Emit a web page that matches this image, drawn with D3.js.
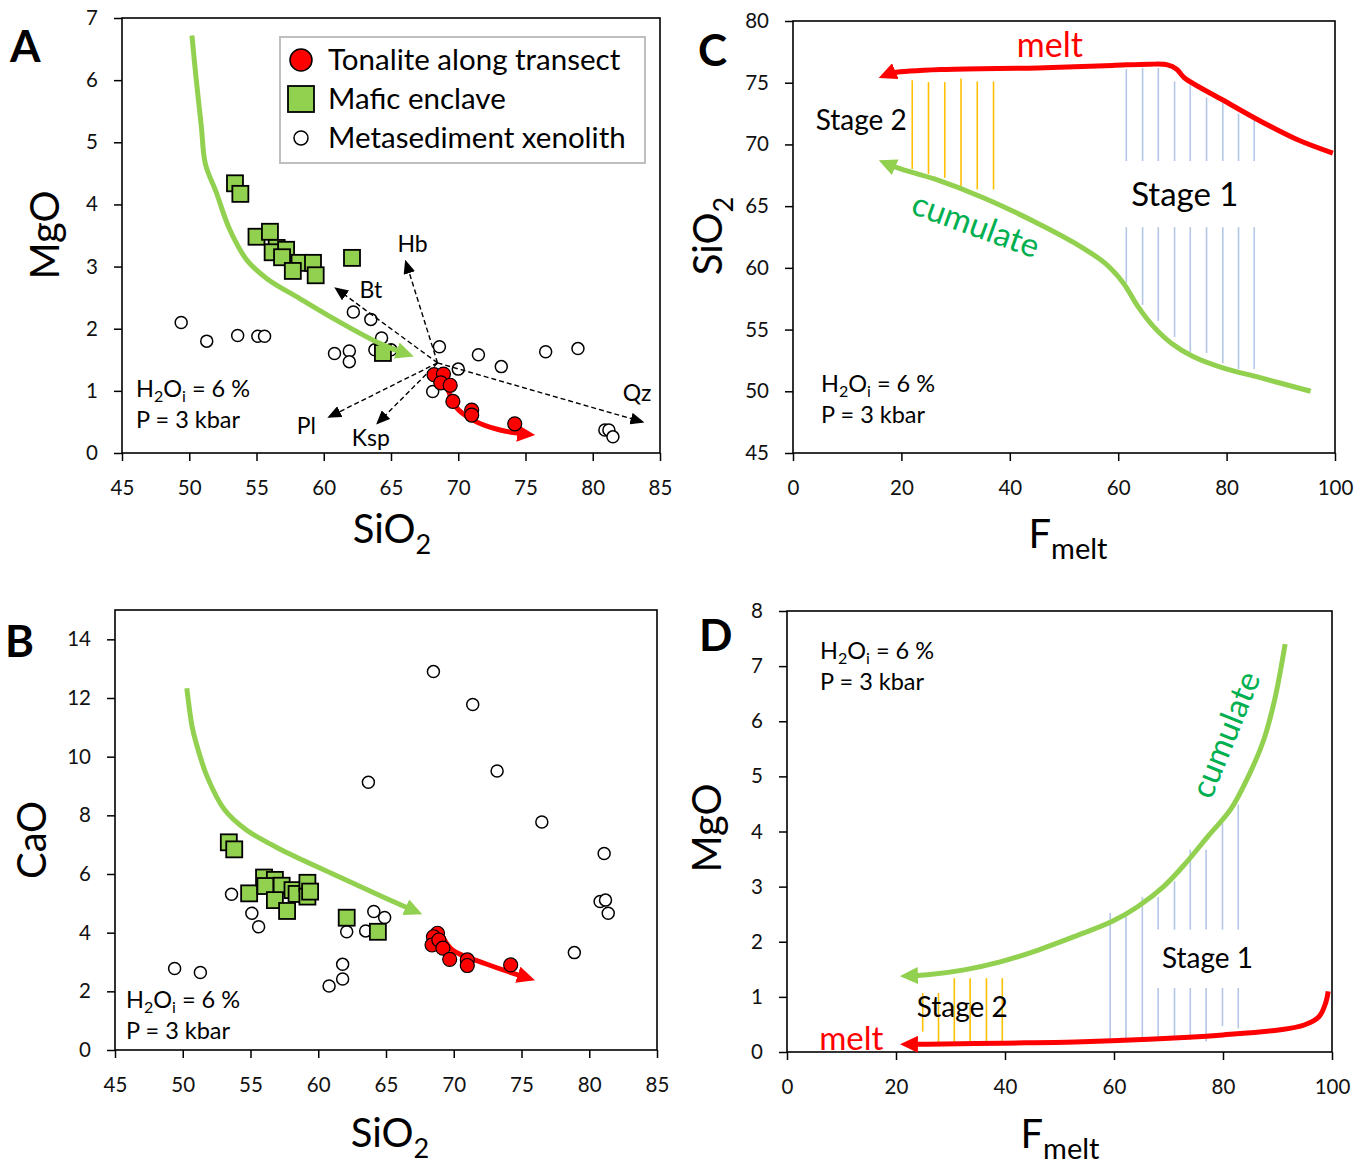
<!DOCTYPE html>
<html>
<head>
<meta charset="utf-8">
<script src="https://cdnjs.cloudflare.com/ajax/libs/d3/7.8.5/d3.min.js"></script>
<style>
body { margin: 0; background: #fff; }
svg { font-family: Lato, sans-serif; }
.axis text { font-family: Lato, sans-serif; font-size: 20.5px; fill: #111; }
.axis line { stroke: #000; stroke-width: 1.5; }
</style>
</head>
<body>
<svg id="fig" width="1372" height="1164"></svg>
<script>
// ---- panel A : MgO vs SiO2 ----
const tonaliteA = [[68.2,1.26],[68.9,1.27],[68.7,1.13],[69.4,1.09],[69.6,0.83],[71.0,0.69],[71.0,0.61],[74.2,0.47]]
const enclaveA = [[53.4,4.34],[53.8,4.17],[55.0,3.48],[56.0,3.56],[56.5,3.30],[56.2,3.23],[57.2,3.27],[56.9,3.15],
                  [58.2,3.06],[57.7,2.93],[59.2,3.06],[59.4,2.86],[62.1,3.14],[64.4,1.61]]
const xenolithA = [[49.4,2.10],[51.3,1.80],[53.6,1.89],[55.1,1.88],[55.6,1.88],[60.8,1.60],[61.9,1.64],[61.9,1.47],
                   [62.2,2.27],[63.5,2.15],[63.8,1.66],[64.3,1.85],[65.0,1.66],[68.6,1.71],[68.1,0.99],[70.0,1.35],
                   [71.5,1.58],[73.2,1.39],[76.5,1.63],[78.9,1.68],[80.9,0.37],[81.2,0.37],[81.5,0.26]]
const cumulateTrendA = [[50.2,6.72],[50.5,6.05],[50.9,5.25],[51.2,4.65],[52.0,4.2],[53.0,3.6],[54.3,3.1],[55.8,2.8],
                        [58.1,2.5],[61.0,2.13],[64.2,1.76],[66.2,1.59]]
const meltTrendA = [[69.1,1.13],[69.8,0.75],[71.1,0.53],[73.1,0.37],[75.2,0.30]]
const vectorOrigin = [68.46,1.45]
const vectorNames = ['Hb','Bt','Pl','Ksp','Qz']
const vectorTips = [[66.1,3.08],[60.9,2.65],[60.4,0.58],[64.0,0.48],[83.7,0.50]]
const vectorLabelAt = [[66.6,3.24],[63.5,2.49],[58.7,0.31],[63.5,0.11],[83.3,0.83]]
const legendLabels = ['Tonalite along transect','Mafic enclave','Metasediment xenolith']

// ---- panel B : CaO vs SiO2 ----
const tonaliteB = [[68.8,3.98],[68.5,3.86],[68.4,3.58],[68.9,3.75],[69.2,3.47],[69.7,3.09],[71.0,3.07],[71.0,2.88],[74.2,2.90]]
const enclaveB = [[53.4,7.08],[53.8,6.84],[54.9,5.34],[56.0,5.88],[56.8,5.80],[56.1,5.59],[57.3,5.60],[56.8,5.11],
                  [57.7,4.74],[58.1,5.45],[58.4,5.32],[59.2,5.70],[59.2,5.23],[59.4,5.40],[62.1,4.51],[64.4,4.03]]
const xenolithB = [[68.5,12.90],[71.4,11.78],[63.7,9.13],[73.2,9.51],[76.5,7.77],[81.1,6.70],[80.8,5.06],[81.2,5.11],
                   [81.4,4.66],[78.9,3.32],[53.6,5.31],[55.1,4.66],[55.6,4.20],[64.1,4.72],[64.9,4.52],[62.1,4.03],
                   [63.5,4.06],[49.4,2.78],[51.3,2.64],[61.8,2.92],[61.8,2.42],[60.8,2.18]]
const cumulateTrendB = [[50.3,12.33],[50.7,11.0],[51.0,10.45],[51.8,9.32],[53.1,8.18],[54.7,7.50],[57.3,6.82],
                        [61.0,6.02],[64.7,5.23],[67.2,4.72]]
const meltTrendB = [[69.2,3.86],[69.9,3.41],[72.3,2.95],[75.5,2.45]]

// ---- panel C : SiO2 vs F melt ----
const meltC = [[99.6,69.3],[93.0,70.4],[86.2,71.9],[79.3,73.6],[72.2,75.4],[70.8,76.1],[69.1,76.45],[65.7,76.5],
               [58.9,76.4],[45.2,76.2],[28.2,76.08],[18.6,75.81],[17.0,75.6]]
const cumulateC = [[95.5,50.0],[86.2,51.1],[79.3,51.9],[73.9,52.8],[69.8,53.9],[66.4,55.3],[63.6,56.9],[60.9,58.8],
                   [57.5,60.4],[52.0,62.0],[45.2,63.6],[35.0,65.7],[26.1,67.2],[19.3,68.1],[17.0,68.5]]
const stage2C = [22, 25, 28, 31, 34, 37]
const stage2TopC = [75.2, 75.05, 75.05, 75.35, 75.1, 75.1]
const stage2BotC = [68.0, 67.6, 67.3, 66.6, 66.35, 66.35]
const stage1C = [61.5, 64.5, 67.4, 70.4, 73.3, 76.3, 79.3, 82.2, 85.1]
const stage1TopC = [76.1, 76.2, 76.2, 75.1, 74.9, 73.8, 73.4, 72.5, 72.0]
const stage1GapC = [68.65, 63.3]
const stage1BotC = [58.8, 57.0, 55.7, 54.4, 53.2, 53.1, 52.3, 51.8, 51.8]

// ---- panel D : MgO vs F melt ----
const cumulateD = [[91.4,7.40],[89.5,6.40],[87.5,5.67],[84.7,5.01],[81.4,4.40],[77.3,3.92],[73.2,3.43],[69.2,3.01],
                   [64.4,2.64],[59.7,2.37],[52.9,2.10],[46.1,1.85],[39.3,1.64],[32.5,1.49],[25.8,1.40],[22.0,1.38]]
const meltD = [[99.3,1.10],[98.8,0.88],[97.6,0.64],[94.9,0.49],[90.2,0.40],[80.0,0.31],[66.4,0.23],[52.9,0.18],
               [39.3,0.16],[25.8,0.14],[22.0,0.14]]
const stage2D = [24.9, 27.8, 30.7, 33.6, 36.6, 39.5]
const stage2TopD = [1.07, 1.07, 1.34, 1.34, 1.34, 1.34]
const stage2BotD = [0.37, 0.16, 0.19, 0.19, 0.19, 0.19]
const stage1D = [59.3, 62.2, 65.2, 68.1, 71.1, 74.0, 76.9, 79.9, 82.8]
const stage1TopD = [2.52, 2.46, 2.81, 2.81, 3.10, 3.67, 3.67, 4.16, 4.49]
const stage1GapD = [2.22, 1.16]
const stage1SplitD = [false, false, false, true, true, true, true, true, true]
const stage1BotD = [0.21, 0.19, 0.19, 0.22, 0.22, 0.22, 0.19, 0.47, 0.43]

const svg = d3.select('#fig')
const defs = svg.append('defs')

function arrowHead(id, color, len, wid, back) {
    defs.append('marker')
        .attr('id', id)
        .attr('markerUnits', 'userSpaceOnUse')
        .attr('viewBox', `0 ${-wid / 2} ${len} ${wid}`)
        .attr('markerWidth', len).attr('markerHeight', wid)
        .attr('refX', len - back).attr('refY', 0)
        .attr('orient', 'auto')
        .append('path')
        .attr('d', `M0,${-wid / 2}L${len},0L0,${wid / 2}Z`)
        .attr('fill', color)
}
arrowHead('headGreen', '#92d050', 18, 17, 7)
arrowHead('headRed', '#ff0000', 18, 17, 7)
arrowHead('headBlack', '#000', 14, 12, 2)

function panel(p) {
    const x = d3.scaleLinear().domain(p.xDomain).range([p.left, p.right])
    const y = d3.scaleLinear().domain(p.yDomain).range([p.bottom, p.top])
    const g = svg.append('g')
    g.append('g').attr('class', 'axis')
     .attr('transform', `translate(0,${p.bottom})`)
     .call(d3.axisBottom(x).tickValues(p.xTicks).tickSize(8).tickPadding(19)
             .tickSizeOuter(0).tickFormat(d3.format('d')))
     .call(a => a.select('.domain').remove())
    g.append('g').attr('class', 'axis')
     .attr('transform', `translate(${p.left},0)`)
     .call(d3.axisLeft(y).tickValues(p.yTicks).tickSize(8).tickPadding(16)
             .tickSizeOuter(0).tickFormat(d3.format('d')))
     .call(a => a.select('.domain').remove())
    g.append('rect')
     .attr('x', p.left).attr('y', p.top)
     .attr('width', p.right - p.left).attr('height', p.bottom - p.top)
     .attr('fill', 'none').attr('stroke', '#000').attr('stroke-width', 1.6)
    const plot = g.append('g')
    // panel letter
    g.append('text').attr('x', p.letterAt[0]).attr('y', p.letterAt[1])
     .attr('font-size', 44).attr('font-weight', 'bold').text(p.letter)
    // x title
    const xt = g.append('text').attr('x', p.xTitleAt[0]).attr('y', p.xTitleAt[1])
                .attr('text-anchor', 'middle').attr('font-size', 40)
    xt.append('tspan').text(p.xTitle[0])
    xt.append('tspan').attr('font-size', p.xTitle[1].length > 1 ? 29 : 27).attr('dy', 11).text(p.xTitle[1])
    // y title
    const yt = g.append('text')
                .attr('transform', `translate(${p.yTitleAt[0]},${p.yTitleAt[1]}) rotate(-90)`)
                .attr('text-anchor', 'middle').attr('font-size', 40)
    yt.append('tspan').text(p.yTitle[0])
    if (p.yTitle[1]) yt.append('tspan').attr('font-size', 27).attr('dy', 11).text(p.yTitle[1])
    // experimental conditions
    const c = g.append('text').attr('x', p.left + p.condAt[0]).attr('y', p.top + p.condAt[1])
               .attr('font-size', 23.5).style('white-space', 'pre')
    c.append('tspan').text('H')
    c.append('tspan').attr('font-size', 16).attr('dy', 5).text('2')
    c.append('tspan').attr('dy', -5).text('O')
    c.append('tspan').attr('font-size', 16).attr('dy', 5).text('i')
    c.append('tspan').attr('dy', -5).text(' = 6 %')
    g.append('text').attr('x', p.left + p.condAt[0]).attr('y', p.top + p.condAt[1] + 31)
     .attr('font-size', 23.5).text('P = 3 kbar')
    return { g: plot, x, y }
}

const line = (x, y) => d3.line().x(d => x(d[0])).y(d => y(d[1])).curve(d3.curveCatmullRom.alpha(0.5))

function trend(P, pts, color, head, w) {
    P.g.append('path').datum(pts)
       .attr('d', line(P.x, P.y))
       .attr('fill', 'none').attr('stroke', color).attr('stroke-width', w || 5)
       .attr('marker-end', `url(#${head})`)
}

function scatter(P, tonalite, enclave, xenolith) {
    P.g.selectAll('.xen').data(xenolith).join('circle')
       .attr('cx', d => P.x(d[0])).attr('cy', d => P.y(d[1])).attr('r', 6)
       .attr('fill', '#fff').attr('stroke', '#000').attr('stroke-width', 1.5)
    P.g.selectAll('.enc').data(enclave).join('rect')
       .attr('x', d => P.x(d[0]) - 8).attr('y', d => P.y(d[1]) - 8)
       .attr('width', 16).attr('height', 16)
       .attr('fill', '#92d050').attr('stroke', '#000').attr('stroke-width', 1.8)
}

function tonalites(P, pts) {
    P.g.selectAll('.ton').data(pts).join('circle')
       .attr('cx', d => P.x(d[0])).attr('cy', d => P.y(d[1])).attr('r', 7)
       .attr('fill', '#ff0000').attr('stroke', '#000').attr('stroke-width', 1.2)
}

function hatch(P, fs, tops, bots, color) {
    P.g.selectAll(null).data(fs).join('line')
       .attr('x1', d => P.x(d)).attr('x2', d => P.x(d))
       .attr('y1', (d, i) => P.y(tops[i])).attr('y2', (d, i) => P.y(bots[i]))
       .attr('stroke', color).attr('stroke-width', 1.6)
}

function label(P, txt, at, size, color, rot, anchor) {
    const t = P.g.append('text')
                 .attr('transform', `translate(${P.x(at[0])},${P.y(at[1])}) rotate(${rot || 0})`)
                 .attr('font-size', size).attr('fill', color || '#000')
                 .attr('text-anchor', anchor || 'start')
                 .text(txt)
    return t
}

// ---------------- A ----------------
const A = panel({
    left: 122, right: 660, top: 18, bottom: 453,
    xDomain: [45, 85], yDomain: [0, 7],
    xTicks: d3.range(45, 86, 5), yTicks: d3.range(0, 8, 1),
    letter: 'A', letterAt: [10, 62],
    xTitle: ['SiO', '2'], xTitleAt: [392, 543],
    yTitle: ['MgO'], yTitleAt: [59, 235],
    condAt: [14, 379]
})
scatter(A, tonaliteA, enclaveA, xenolithA)
vectorTips.forEach((t, i) => {
    A.g.append('line')
       .attr('x1', A.x(vectorOrigin[0])).attr('y1', A.y(vectorOrigin[1]))
       .attr('x2', A.x(t[0])).attr('y2', A.y(t[1]))
       .attr('stroke', '#000').attr('stroke-width', 1.4).attr('stroke-dasharray', '5,3')
       .attr('marker-end', 'url(#headBlack)')
    label(A, vectorNames[i], vectorLabelAt[i], 23, '#000', 0, 'middle')
})
trend(A, cumulateTrendA, '#92d050', 'headGreen')
trend(A, meltTrendA, '#ff0000', 'headRed')
tonalites(A, tonaliteA)

// legend
const lg = A.g.append('g')
lg.append('rect').attr('x', 280).attr('y', 37).attr('width', 365).attr('height', 126)
  .attr('fill', '#fff').attr('stroke', '#bfbfbf').attr('stroke-width', 2)
legendLabels.forEach((t, i) => {
    const cy = 60 + i * 39
    if (i === 0) lg.append('circle').attr('cx', 301).attr('cy', cy).attr('r', 11)
                   .attr('fill', '#ff0000').attr('stroke', '#000').attr('stroke-width', 1.5)
    if (i === 1) lg.append('rect').attr('x', 288).attr('y', cy - 13).attr('width', 26).attr('height', 26)
                   .attr('fill', '#92d050').attr('stroke', '#000').attr('stroke-width', 1.8)
    if (i === 2) lg.append('circle').attr('cx', 301).attr('cy', cy).attr('r', 7)
                   .attr('fill', '#fff').attr('stroke', '#000').attr('stroke-width', 1.5)
    lg.append('text').attr('x', 328).attr('y', cy + 10).attr('font-size', 29.5).text(t)
})

// ---------------- B ----------------
const B = panel({
    left: 115, right: 657, top: 610, bottom: 1050,
    xDomain: [45, 85], yDomain: [0, 15],
    xTicks: d3.range(45, 86, 5), yTicks: d3.range(0, 15, 2),
    letter: 'B', letterAt: [5, 657],
    xTitle: ['SiO', '2'], xTitleAt: [390, 1147],
    yTitle: ['CaO'], yTitleAt: [46, 840],
    condAt: [11, 398]
})
scatter(B, tonaliteB, enclaveB, xenolithB)
trend(B, cumulateTrendB, '#92d050', 'headGreen')
trend(B, meltTrendB, '#ff0000', 'headRed')
tonalites(B, tonaliteB)

// ---------------- C ----------------
const C = panel({
    left: 793, right: 1335, top: 21, bottom: 453,
    xDomain: [0, 100], yDomain: [45, 80],
    xTicks: d3.range(0, 101, 20), yTicks: d3.range(45, 81, 5),
    letter: 'C', letterAt: [698, 66],
    xTitle: ['F', 'melt'], xTitleAt: [1068, 548],
    yTitle: ['SiO', '2'], yTitleAt: [722, 236],
    condAt: [28, 371]
})
hatch(C, stage2C, stage2TopC, stage2BotC, '#ffc000')
hatch(C, stage1C, stage1TopC, stage1C.map(() => stage1GapC[0]), '#b4c7e7')
hatch(C, stage1C, stage1C.map(() => stage1GapC[1]), stage1BotC, '#b4c7e7')
trend(C, meltC, '#ff0000', 'headRed')
trend(C, cumulateC, '#92d050', 'headGreen')
label(C, 'melt', [47.4, 77.1], 34, '#ff0000', 0, 'middle')
label(C, 'Stage 2', [4.2, 71.2], 28)
label(C, 'Stage 1', [62.4, 65.0], 33)
label(C, 'cumulate', [33.0, 62.6], 33, '#00b050', 20, 'middle')

// ---------------- D ----------------
const D = panel({
    left: 787, right: 1332, top: 611, bottom: 1052,
    xDomain: [0, 100], yDomain: [0, 8],
    xTicks: d3.range(0, 101, 20), yTicks: d3.range(0, 9, 1),
    letter: 'D', letterAt: [699, 651],
    xTitle: ['F', 'melt'], xTitleAt: [1060, 1148],
    yTitle: ['MgO'], yTitleAt: [721, 828],
    condAt: [33, 48]
})
hatch(D, stage2D, stage2TopD, stage2BotD, '#ffc000')
hatch(D, stage1D, stage1TopD, stage1D.map((d, i) => stage1SplitD[i] ? stage1GapD[0] : stage1BotD[i]), '#b4c7e7')
hatch(D, stage1D.filter((d, i) => stage1SplitD[i]),
      stage1D.filter((d, i) => stage1SplitD[i]).map(() => stage1GapD[1]),
      stage1BotD.filter((d, i) => stage1SplitD[i]), '#b4c7e7')
trend(D, cumulateD, '#92d050', 'headGreen')
trend(D, meltD, '#ff0000', 'headRed')
label(D, 'Stage 1', [68.8, 1.52], 28)
label(D, 'Stage 2', [23.8, 0.64], 28)
label(D, 'melt', [5.9, 0.04], 33, '#ff0000')
label(D, 'cumulate', [82.4, 5.68], 33, '#00b050', -68, 'middle')
</script>
</body>
</html>
